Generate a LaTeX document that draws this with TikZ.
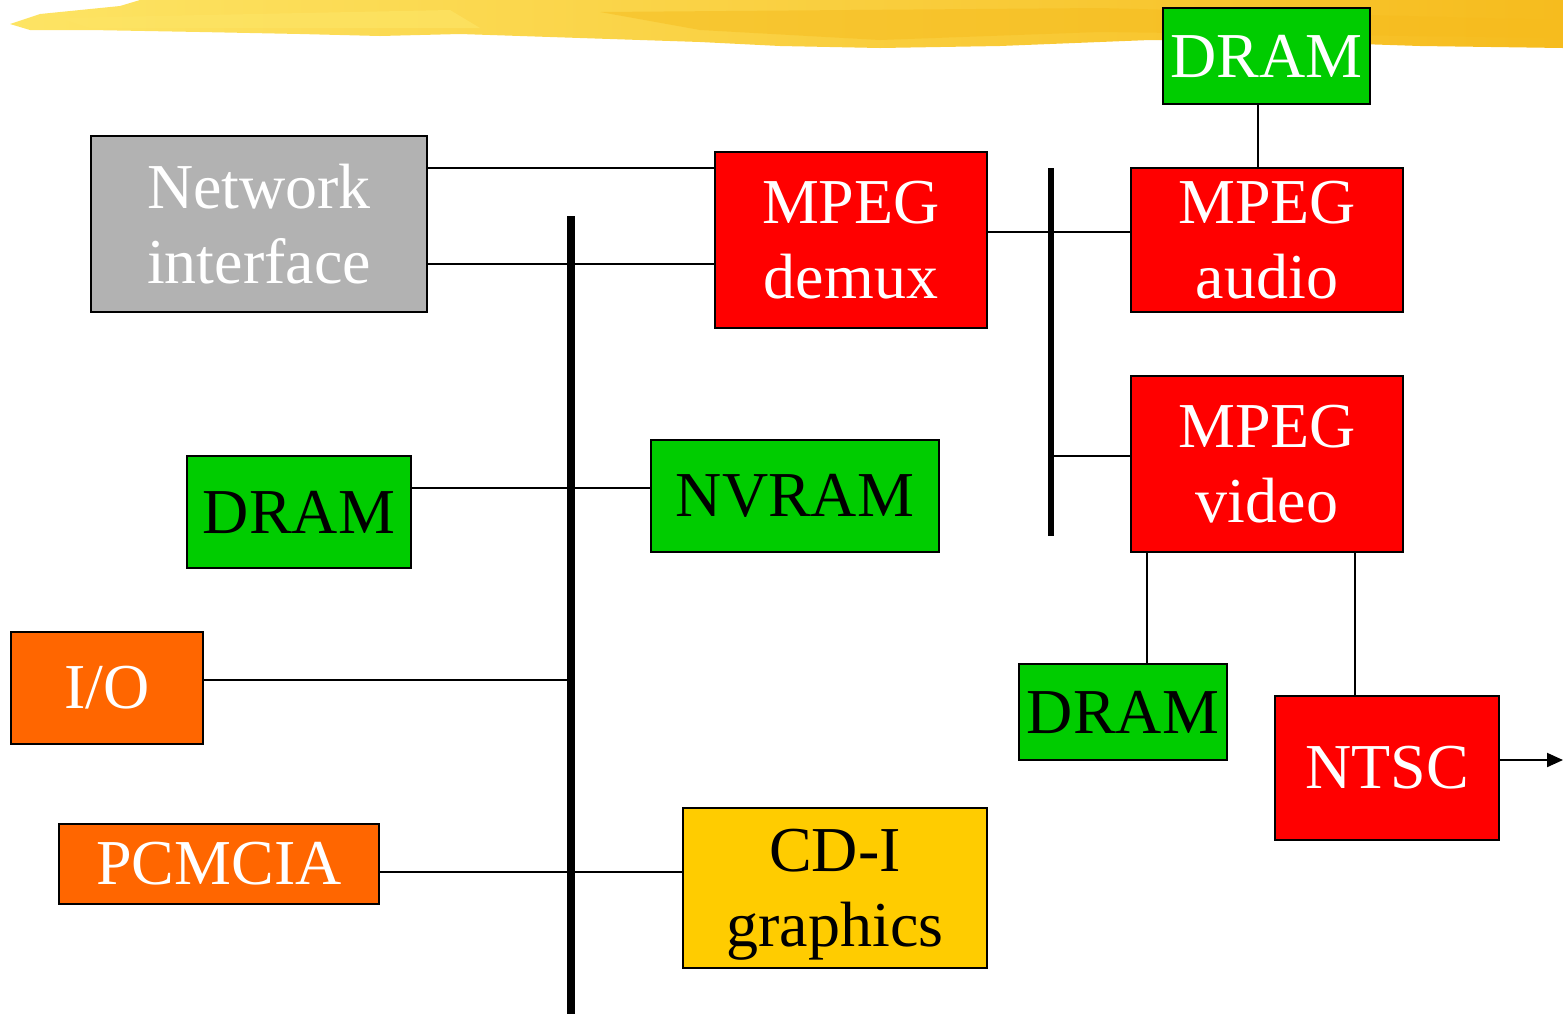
\documentclass[tikz,border=0pt]{standalone}
\usepackage{fontspec}
\setmainfont{Liberation Serif}
\usetikzlibrary{arrows.meta, calc}
\usepackage{xcolor}
\definecolor{chipred}{RGB}{255,0,0}
\definecolor{chipgreen}{RGB}{0,204,0}
\definecolor{chipgray}{RGB}{178,178,178}
\definecolor{chiporange}{RGB}{255,102,0}
\definecolor{chipyellow}{RGB}{255,204,0}
\definecolor{brushA}{RGB}{253,228,100}
\definecolor{brushB}{RGB}{246,188,30}

\begin{document}
\begin{tikzpicture}[x=0.5pt, y=-0.5pt,
    block/.style={draw, line width=1pt, inner sep=0pt, align=center, font=\fontsize{32}{37.5}\selectfont},
    hot/.style={block, fill=chipred, text=white},
    mem/.style={block, fill=chipgreen, text=black},
    port/.style={block, fill=chiporange, text=white},
    wire/.style={line width=1pt},
    bus/.style={line width=4pt},
    outlink/.style={wire, -{Triangle[length=8pt, width=7pt]}}
]
\useasboundingbox (0,0) rectangle (1563,1014);

% Brush stroke along the top
\shade[left color=brushA, right color=brushB]
    (10,24) -- (40,14) -- (120,6) -- (140,0) -- (1563,0) -- (1563,48)
    -- (1420,46) -- (1300,42) -- (1150,40) -- (1000,46) -- (880,48)
    -- (780,46) -- (700,42) -- (580,38) -- (460,34) -- (380,36)
    -- (300,34) -- (200,32) -- (90,30) -- (30,30) -- cycle;
\fill[brushB, opacity=0.5] (600,12) -- (1100,8) -- (1563,20) -- (1563,38) -- (1100,32) -- (880,40) -- (700,30) -- cycle;
\fill[brushA, opacity=0.7] (60,18) -- (450,10) -- (480,28) -- (90,28) -- cycle;

% Blocks
\node[block, fill=chipgray, text=white, minimum width=168pt, minimum height=88pt] (net) at (259,224) {Network\\interface};
\node[hot, minimum width=136pt, minimum height=88pt] (dmx)   at (851,240)    {MPEG\\demux};
\node[mem, text=white, minimum width=103.5pt, minimum height=48pt] (dramA) at (1266.5,56) {DRAM};
\node[hot, minimum width=136pt, minimum height=72pt] (aud)   at (1267,240)   {MPEG\\audio};
\node[hot, minimum width=136pt, minimum height=88pt] (vid)   at (1267,464)   {MPEG\\video};
\node[mem, minimum width=112pt, minimum height=56pt] (dramL) at (299,512)    {DRAM};
\node[mem, minimum width=144pt, minimum height=56pt] (nvram) at (795,496)    {NVRAM};
\node[port, minimum width=96pt, minimum height=56pt] (io)    at (107,688)    {I/O};
\node[port, minimum width=160pt, minimum height=40pt] (pcm)  at (219,864)    {PCMCIA};
\node[block, fill=chipyellow, text depth=0pt, minimum width=152pt, minimum height=80pt] (cdi) at (835,888) {CD-I\\graphics};
\node[mem, minimum width=104pt, minimum height=48pt] (dramV) at (1123,712)   {DRAM};
\node[hot, minimum width=112pt, minimum height=72pt] (ntsc)  at (1387,768)   {NTSC};

% Buses
\coordinate (sysTop) at (571,216);
\coordinate (sysBot) at (571,1014);
\coordinate (mpgTop) at (1051,168);
\coordinate (mpgBot) at (1051,536);
\coordinate (tv)     at (1563,760);

% Wires
\draw[wire] (net.east |- 0,168) -- (dmx.west |- 0,168);
\draw[wire] (net.east |- 0,264) -- (dmx.west |- 0,264);
\draw[wire] (dmx.east |- 0,232) -- (aud.west |- 0,232);
\draw[wire] (mpgTop |- 0,456) -- (vid.west |- 0,456);
\draw[wire] (dramA.south -| 1258,0) -- (aud.north -| 1258,0);
\draw[wire] (dramL.east |- 0,488) -- (nvram.west |- 0,488);
\draw[wire] (io.east |- 0,680) -- (sysTop |- 0,680);
\draw[wire] (pcm.east |- 0,872) -- (cdi.west |- 0,872);
\draw[wire] (vid.south -| 1147,0) -- (dramV.north -| 1147,0);
\draw[wire] (vid.south -| 1355,0) -- (ntsc.north -| 1355,0);
\draw[outlink] (ntsc.east |- tv) -- (tv);

\draw[bus] (sysTop) -- (sysBot);
\draw[bus, line width=3pt] (mpgTop) -- (mpgBot);

\end{tikzpicture}
\end{document}
